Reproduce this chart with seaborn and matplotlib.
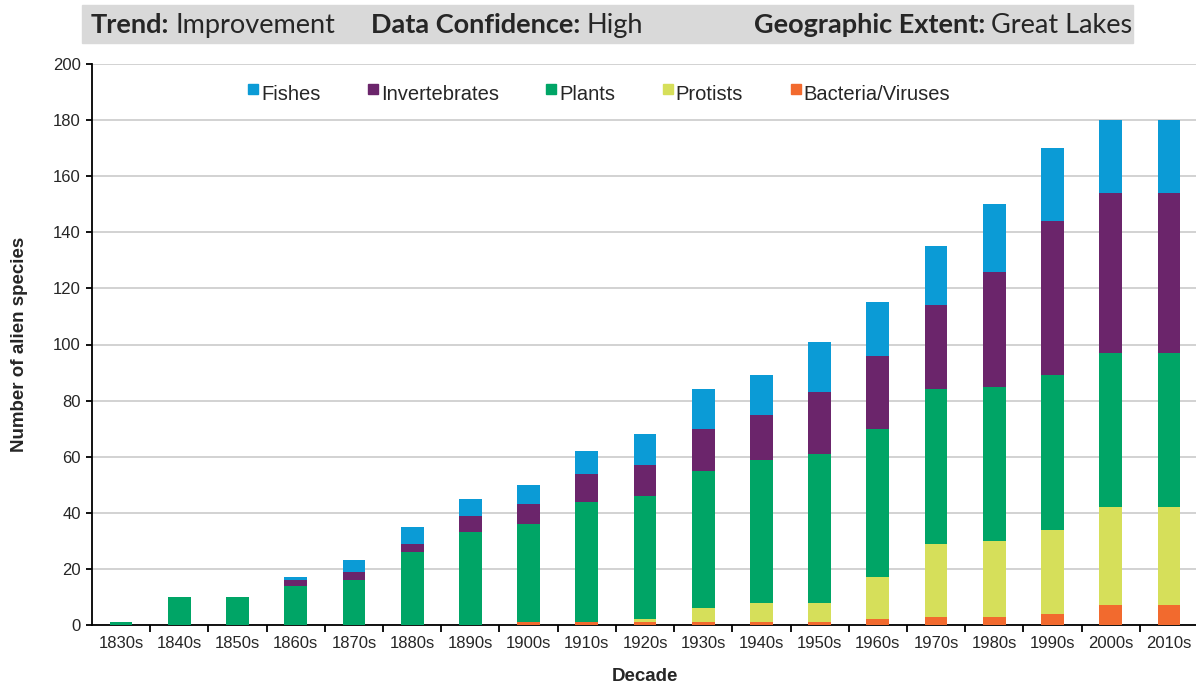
import numpy as np
import pandas as pd
import seaborn as sns
from matplotlib import pyplot as plt
from matplotlib.lines import Line2D
from matplotlib.patches import Rectangle
from matplotlib.transforms import ScaledTranslation

sns.set_theme(style='white')
plt.rcParams['font.family'] = ['Liberation Sans', 'DejaVu Sans']

# data (species added per decade, per group)
decades = ['1830s', '1840s', '1850s', '1860s', '1870s', '1880s', '1890s', '1900s', '1910s', '1920s',
           '1930s', '1940s', '1950s', '1960s', '1970s', '1980s', '1990s', '2000s', '2010s']
bacteria = [0, 0, 0, 0, 0, 0, 0, 1, 1, 1, 1, 1, 1, 2, 3, 3, 4, 7, 7]
protists = [0, 0, 0, 0, 0, 0, 0, 0, 0, 1, 5, 7, 7, 15, 26, 27, 30, 35, 35]
plants = [1, 10, 10, 14, 16, 26, 33, 35, 43, 44, 49, 51, 53, 53, 55, 55, 55, 55, 55]
invertebrates = [0, 0, 0, 2, 3, 3, 6, 7, 10, 11, 15, 16, 22, 26, 30, 41, 55, 57, 57]
fishes = [0, 0, 0, 1, 4, 6, 6, 7, 8, 11, 14, 14, 18, 19, 21, 24, 26, 26, 26]

groups = ['Bacteria/Viruses', 'Protists', 'Plants', 'Invertebrates', 'Fishes']
colors = {'Fishes': '#0b9bd6', 'Invertebrates': '#6b256b', 'Plants': '#00a566',
          'Protists': '#d6df5a', 'Bacteria/Viruses': '#f26a2e'}

df = pd.DataFrame({'Decade': decades, 'Bacteria/Viruses': bacteria, 'Protists': protists,
                   'Plants': plants, 'Invertebrates': invertebrates, 'Fishes': fishes})
cum = df[groups].cumsum(axis=1)
cum['Decade'] = df['Decade']

W, H = 1196, 688
fig = plt.figure(figsize=(W / 100, H / 100), dpi=100)
ax = fig.add_axes([92 / W, 63 / H, 1106 / W, 561 / H])

# stacked bars: draw cumulative totals from the top group down
for g in groups[::-1]:
    sns.barplot(data=cum, x='Decade', y=g, color=colors[g], width=0.39,
                saturation=1, linewidth=0, edgecolor='none', ax=ax, zorder=3)

ax.set_ylim(0, 200)
ax.set_xlim(-0.5, 18.5)
ax.set_yticks(np.arange(0, 201, 20))
ax.yaxis.grid(True, color='#cfcfcf', linewidth=1.3, zorder=0)
ax.set_axisbelow(True)
for s in ['top', 'right']:
    ax.spines[s].set_visible(False)
for s in ['left', 'bottom']:
    ax.spines[s].set_color('black')
    ax.spines[s].set_linewidth(1.3)

ax.tick_params(axis='y', which='major', left=True, length=4, width=1.3, labelsize=12, pad=4, color='black')
ax.tick_params(axis='x', which='major', bottom=False, labelsize=12, pad=2)
ax.set_xticks(np.arange(0.5, 18.5, 1), minor=True)
ax.tick_params(axis='x', which='minor', bottom=True, length=5, width=1.3, color='black')

ax.set_xlabel('Decade', fontsize=13.5, fontweight='bold', labelpad=12)
ax.set_ylabel('Number of alien species', fontsize=13.5, fontweight='bold', labelpad=18)

handles = [Line2D([], [], marker='s', linestyle='none', markersize=7.5, color=colors[g])
           for g in groups[::-1]]
leg = ax.legend(handles, groups[::-1], ncol=5, frameon=False, loc='upper left',
                bbox_to_anchor=(0.122, 0.995), fontsize=14.5, handletextpad=0.0,
                columnspacing=2.2, handlelength=0.8)
for h in leg.legend_handles:
    h.set_transform(h.get_transform() + ScaledTranslation(0, 0.035, fig.dpi_scale_trans))

# header banner
fig.patches.append(Rectangle((82 / W, 1 - 43 / H), (1133 - 82) / W, 38 / H,
                             transform=fig.transFigure, color='#d9d9d9', zorder=0))
hdr = [('Trend:', 'Improvement', 91), ('Data Confidence:', 'High', 371),
       ('Geographic Extent:', 'Great Lakes', 754)]
renderer = fig.canvas.get_renderer()
for bold, rest, x in hdr:
    t = fig.text(x / W, 1 - 33 / H, bold, fontsize=19.5, fontweight='bold',
                 family=['Lato', 'DejaVu Sans'], va='baseline')
    x1 = t.get_window_extent(renderer).x1
    fig.text(x1 / W + 6 / W, 1 - 33 / H, rest, fontsize=19.5,
             family=['Lato', 'DejaVu Sans'], va='baseline')

fig.savefig('out.png', dpi=100)
